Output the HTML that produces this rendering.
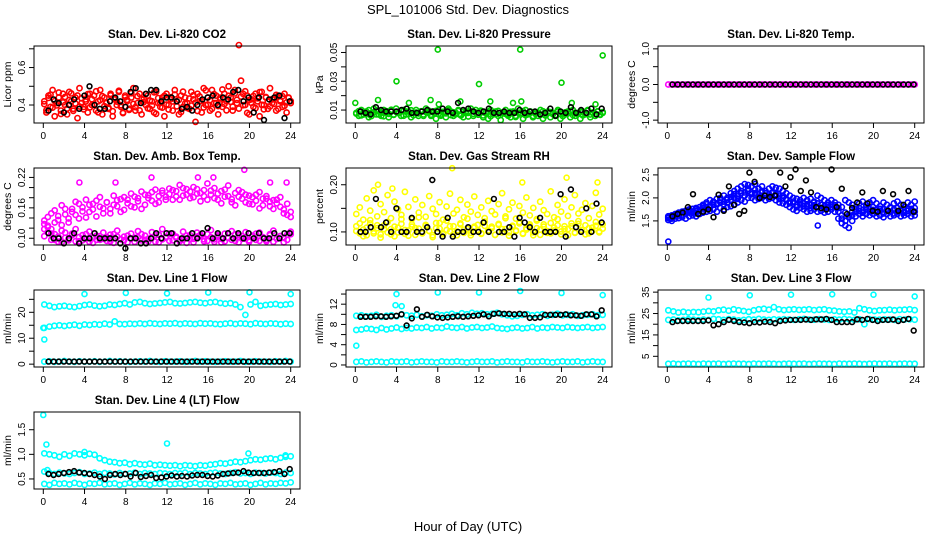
<!DOCTYPE html>
<html><head><meta charset="utf-8"><style>
html,body{margin:0;padding:0;background:#fff;}
svg{display:block;font-family:"Liberation Sans",Arial,sans-serif;}
</style></head><body>
<svg id="fig" width="936" height="540" viewBox="0 0 936 540" xmlns="http://www.w3.org/2000/svg">
<text x="468" y="14" font-size="13" text-anchor="middle">SPL_101006  Std. Dev. Diagnostics</text>
<text x="468" y="531" font-size="13" text-anchor="middle">Hour of Day (UTC)</text>
</svg>
<script>
// ---------- data ----------
const xTicks = [0,4,8,12,16,20,24];

const co2Red = [.42,.36,.45,.39,.48,.34,.41,.44,.37,.46,.40,.35,.47,.42,.38,.44,.33,.49,.41,.39,
.43,.36,.46,.40,.45,.37,.42,.48,.35,.44,.41,.38,.46,.34,.43,.40,.47,.39,.36,.45,
.42,.38,.44,.49,.37,.41,.46,.35,.43,.40,.45,.38,.42,.36,.47,.41,.39,.44,.34,.46,
.40,.43,.37,.48,.42,.35,.45,.39,.44,.41,.38,.47,.43,.31,.46,.42,.36,.49,.40,.44,
.37,.48,.41,.45,.35,.43,.39,.46,.42,.50,.44,.37,.48,.41,.72,.53,.46,.40,.45,.35,
.43,.39,.46,.42,.34,.47,.40,.44,.38,.49,.41,.43,.37,.45,.42,.39,.46,.36,.44,.41];
const co2Red2 = [.405,.372,.438,.455,.386,.421,.398,.467,.352,.414,.443,.381,.427,.462,.369,.408,.451,.392,.436,.377,
.419,.458,.388,.431,.402,.473,.361,.426,.447,.394,.412,.385,.452,.367,.434,.418,.476,.399,.357,.441,
.428,.374,.463,.406,.389,.447,.371,.432,.415,.459,.382,.424,.397,.468,.353,.437,.411,.386,.449,.403,
.376,.441,.419,.456,.393,.428,.362,.471,.408,.384,.435,.397,.452,.413,.368,.446,.421,.387,.478,.402,
.426,.379,.458,.411,.394,.439,.483,.405,.372,.449,.417,.391,.462,.428,.381,.445,.399,.473,.358,.427,
.412,.448,.383,.436,.469,.401,.377,.443,.418,.392,.431,.406,.454,.379,.425,.447,.396,.414,.438,.421];
const co2Black = [.37,.43,.41,.36,.40,.43,.38,.45,.50,.40,.38,.38,.42,.44,.42,.39,.47,.49,.41,.46,
.48,.48,.42,.44,.44,.42,.38,.39,.37,.40,.43,.44,.45,.40,.44,.43,.47,.48,.42,.44,.36,.44,.32,.43,.44,.45,.33,.42];

const presGreen = [.008,.006,.010,.007,.009,.005,.008,.011,.007,.009,.006,.010,.008,.005,.009,.007,.011,.008,.006,.010,
.007,.009,.005,.008,.010,.006,.009,.007,.011,.008,.006,.009,.004,.010,.007,.008,.005,.011,.009,.006,
.008,.010,.007,.005,.009,.008,.011,.006,.010,.007,.009,.005,.008,.004,.010,.007,.009,.006,.003,.008,
.010,.007,.005,.009,.006,.011,.008,.004,.010,.007,.009,.005,.008,.006,.010,.004,.007,.009,.005,.008,
.006,.010,.004,.008,.007,.009,.005,.010,.006,.008,.004,.009,.007,.010,.005,.008,.006,.009,.007,.008];
const presGreen2 = [.0075,.0092,.0063,.0088,.0071,.0099,.0058,.0084,.0096,.0069,.0081,.0057,.0093,.0074,.0102,.0066,.0087,.0079,.0095,.0061,
.0089,.0072,.0098,.0064,.0083,.0076,.0091,.0059,.0086,.0097,.0068,.0082,.0094,.0073,.0061,.0088,.0077,.0099,.0065,.0084,
.0071,.0093,.0062,.0087,.0079,.0055,.0091,.0074,.0083,.0068,.0096,.0063,.0078,.0089,.0057,.0082,.0071,.0094,.0066,.0085,
.0073,.0061,.0088,.0076,.0052,.0081,.0069,.0092,.0064,.0078,.0087,.0059,.0074,.0083,.0068,.0091,.0062,.0079,.0086,.0071,
.0065,.0089,.0073,.0058,.0084,.0077,.0093,.0066,.0081,.0072,.0088,.0063,.0079,.0095,.0069,.0083,.0074,.0091,.0067,.0085];
const presOutHours = [0,2.2,4,5.2,7.3,8,8.1,10.2,12,13.1,15.3,16,16.1,20,21,23.3,24];
const presOutVals = [.015,.017,.030,.015,.017,.052,.014,.016,.028,.016,.015,.052,.016,.029,.015,.014,.048];
const presBlack = [.009,.008,.007,.012,.010,.009,.009,.009,.010,.011,.008,.008,.009,.010,.009,.009,.011,.009,.008,.015,
.010,.011,.009,.008,.009,.011,.008,.008,.009,.008,.008,.010,.008,.009,.009,.007,.008,.011,.006,.009,.008,.012,.008,.010,.008,.011,.007,.011];

const tempMag = [0,0,0,0,0,0,0,0,0,0,0,0,0,0,0,0,0,0,0,0,0,0,0,0,0,0,0,0,0,0,0,0,0,0,0,0,0,0,0,0,0,0,0,0,0,0,0,0,0,0,0,0,0,0,0,0,0,0,0,0,0,0,0,0,0,0,0,0,0,0,0,0];
const tempBlack = [0,0,0,0,0,0,0,0,0,0,0,0,0,0,0,0,0,0,0,0,0,0,0,0,0,0,0,0,0,0,0,0,0,0,0,0,0,0,0,0,0,0,0,0,0,0,0,0];

const ambUpper = [.128,.142,.118,.155,.136,.165,.147,.131,.158,.172,.139,.161,.176,.152,.168,.143,.181,.159,.171,.149,.184,.163,.177,.156,
.169,.188,.161,.179,.192,.166,.185,.174,.196,.171,.189,.182,.198,.176,.193,.205,.184,.197,.179,.201,.188,.173,.195,.208,
.186,.199,.176,.193,.182,.204,.171,.189,.195,.178,.186,.168,.181,.174,.191,.165,.178,.172,.158,.176,.162,.149,.168,.152];
const ambUpper2 = [.135,.122,.149,.131,.144,.126,.158,.139,.152,.146,.168,.153,.141,.166,.157,.174,.162,.149,.171,.158,.166,.175,.152,.181,
.176,.163,.182,.173,.158,.186,.179,.191,.168,.183,.194,.176,.187,.195,.182,.176,.199,.186,.192,.181,.197,.189,.183,.176,
.194,.179,.188,.169,.196,.183,.177,.165,.182,.191,.171,.184,.167,.186,.159,.178,.183,.163,.175,.169,.181,.157,.146,.142];
const ambLower = [.104,.112,.097,.108,.093,.115,.101,.096,.109,.118,.094,.106,.099,.113,.091,.105,.097,.111,.102,.094,.108,.115,.098,.103,
.092,.109,.101,.114,.096,.105,.099,.112,.093,.107,.118,.101,.095,.109,.103,.097,.113,.091,.106,.099,.111,.104,.094,.108,
.116,.098,.103,.092,.109,.101,.114,.095,.106,.099,.112,.093,.105,.097,.111,.102,.094,.108,.115,.099,.104,.092,.107,.113];
const ambLower2 = [.118,.125,.109,.097,.103,.092,.111,.099,.106,.094,.102,.096,.108,.093,.101,.097,.104,.099,.095,.107,.091,.103,.098,.096,
.105,.099,.093,.102,.108,.097,.094,.101,.106,.092,.098,.103,.109,.096,.101,.094,.097,.105,.099,.092,.103,.107,.098,.095,
.102,.093,.106,.099,.094,.101,.097,.108,.092,.104,.099,.096,.103,.109,.095,.101,.097,.106,.093,.099,.104,.101,.097,.108];
const ambOutHours = [3.5,7,10.5,15,16.5,19.5,22,23.6];
const ambOutVals = [.21,.21,.22,.22,.22,.235,.21,.21];
const ambBlack = [.11,.10,.10,.09,.10,.11,.09,.10,.10,.11,.10,.10,.10,.10,.09,.08,.10,.10,.09,.09,.10,.11,.10,.11,
.11,.09,.10,.10,.11,.10,.11,.12,.10,.11,.10,.11,.10,.11,.10,.11,.10,.11,.10,.10,.11,.10,.11,.11];

const rhLow = [.102,.118,.091,.109,.125,.097,.114,.088,.106,.121,.095,.111,.099,.127,.104,.092,.116,.108,.131,.097,.113,.102,.089,.119,
.107,.095,.124,.101,.112,.093,.118,.105,.128,.098,.109,.115,.096,.122,.103,.111,.094,.117,.106,.129,.099,.113,.102,.121,
.097,.108,.116,.093,.124,.105,.111,.098,.119,.103,.127,.095,.112,.106,.118,.099,.123,.104,.114,.097,.109,.121,.101,.116];
const rhLow2 = [.112,.097,.105,.093,.118,.101,.108,.095,.114,.099,.106,.091,.109,.117,.096,.103,.111,.094,.107,.099,.115,.102,.093,.108,
.119,.097,.104,.112,.095,.101,.116,.098,.106,.093,.111,.104,.097,.113,.101,.108,.094,.115,.099,.106,.092,.111,.103,.118,
.096,.105,.113,.099,.108,.094,.116,.102,.097,.109,.114,.101,.106,.093,.112,.098,.117,.104,.095,.108,.102,.113,.099,.107];
const rhHigh = [.138,.152,.126,.171,.145,.188,.133,.159,.142,.178,.129,.164,.148,.136,.185,.153,.127,.169,.141,.157,.132,.176,.149,.138,
.163,.126,.154,.181,.139,.147,.168,.131,.158,.143,.175,.136,.152,.129,.166,.144,.137,.159,.182,.133,.148,.162,.128,.155,
.141,.173,.135,.151,.127,.164,.146,.138,.186,.131,.157,.143,.169,.134,.152,.178,.139,.147,.161,.129,.155,.183,.137,.149];
const rhOutHours = [2.2,3.6,9.4,16.2,20.5,23.5];
const rhOutVals = [.200,.192,.235,.205,.215,.205];
const rhBlack = [.10,.10,.11,.17,.11,.12,.10,.15,.10,.10,.13,.10,.10,.11,.21,.10,.09,.13,.09,.10,.10,.11,.10,.10,
.12,.10,.17,.10,.10,.11,.09,.13,.12,.11,.10,.13,.10,.10,.10,.18,.09,.19,.11,.10,.15,.10,.16,.12];

const flowBlueA = [1.60,1.62,1.65,1.68,1.70,1.72,1.75,1.76,1.78,1.80,1.85,1.90,1.95,1.92,1.98,2.00,2.05,2.00,2.10,2.15,2.20,2.25,2.30,2.28,
2.25,2.30,2.20,2.25,2.15,2.20,2.25,2.22,2.20,2.15,2.10,2.05,2.00,1.98,1.95,2.00,1.95,1.98,1.92,2.05,2.00,1.95,1.90,1.95,
1.90,1.85,1.80,1.95,1.90,1.85,1.80,1.88,1.92,1.85,1.90,1.95,1.88,1.82,1.90,1.85,1.80,1.88,1.92,1.85,1.80,1.90,1.85,1.92];
const flowBlueB = [1.52,1.50,1.55,1.56,1.58,1.55,1.60,1.62,1.60,1.65,1.68,1.70,1.72,1.75,1.70,1.78,1.75,1.80,1.82,1.85,1.90,1.95,1.92,2.00,
2.00,1.95,1.98,2.00,1.95,1.98,2.00,1.95,1.90,1.88,1.85,1.80,1.75,1.72,1.78,1.75,1.70,1.72,1.75,1.70,1.72,1.68,1.70,1.75,
1.70,1.55,1.45,1.40,1.35,1.50,1.60,1.65,1.60,1.65,1.62,1.65,1.60,1.62,1.58,1.65,1.60,1.62,1.65,1.60,1.62,1.65,1.60,1.62];
const flowBlueC = [1.56,1.58,1.60,1.62,1.64,1.66,1.68,1.70,1.72,1.74,1.78,1.80,1.84,1.85,1.86,1.90,1.92,1.90,1.96,2.00,2.05,2.10,2.12,2.15,
2.12,2.10,2.08,2.12,2.05,2.08,2.10,2.08,2.05,2.00,1.98,1.92,1.88,1.85,1.86,1.88,1.82,1.85,1.84,1.88,1.85,1.82,1.80,1.85,
1.80,1.70,1.62,1.68,1.62,1.70,1.75,1.78,1.74,1.75,1.76,1.80,1.74,1.72,1.75,1.74,1.70,1.75,1.78,1.72,1.70,1.76,1.72,1.78];
const flowBlueD = [1.58,1.55,1.62,1.66,1.60,1.70,1.72,1.68,1.76,1.72,1.82,1.86,1.80,1.90,1.88,1.95,1.86,1.96,2.02,2.08,1.98,2.15,2.05,2.20,
2.08,2.18,2.02,2.15,2.10,2.02,2.12,2.05,1.98,2.05,1.95,1.88,1.92,1.80,1.90,1.82,1.86,1.78,1.90,1.80,1.85,1.76,1.84,1.80,
1.84,1.78,1.55,1.50,1.58,1.62,1.70,1.72,1.68,1.80,1.70,1.74,1.68,1.76,1.66,1.72,1.78,1.66,1.70,1.74,1.68,1.72,1.76,1.70];
const flowOutHours = [0.1,14.6];
const flowOutVals = [1.05,1.40];
const flowBlack = [1.60,1.65,1.68,1.80,2.08,1.65,1.70,1.75,1.58,2.07,1.72,2.25,1.85,1.65,1.72,2.55,2.35,2.00,2.05,2.02,2.05,2.55,2.25,2.45,
2.62,2.15,2.38,2.12,1.80,1.78,1.75,2.62,1.80,2.20,1.65,1.78,1.90,2.12,1.88,1.72,1.70,2.15,1.72,2.08,1.72,1.85,2.15,1.70];

const line1Top = [23,22.5,22,22.3,22.5,22.2,22,22.4,22.8,23,22.6,22.3,22.5,23,22.8,23.2,23.5,23,23.8,24,23.5,23.2,23.4,23.6,23.8,
24,23.5,23.4,23.6,23.8,24,23.7,23.5,23.8,24,23.6,23.3,23.5,23,22,19,23,24,22.5,22.8,23,23.2,22.8,23,23.2];
const line1Mid = [14,14.5,14.8,15,14.7,15,15.2,14.8,15.3,15.1,15.4,15.2,15.6,15.3,16.5,15.5,15.4,15.6,15.5,15.7,15.5,15.8,15.6,15.5,15.7,
15.6,15.8,15.5,15.7,15.6,15.5,15.8,15.6,15.7,15.5,15.4,15.6,15.8,15.5,15.7,15.6,15.4,15.8,15.6,15.5,15.7,15.6,15.4,15.6,15.5];
const line1Low = [1.0,1.1,0.9,1.0,1.2,1.0,0.9,1.1,1.0,1.0,1.1,0.9,1.0,1.2,1.0,1.1,1.0,0.9,1.0,1.1,1.0,1.2,1.0,0.9,1.1,
1.0,1.0,1.1,0.9,1.0,1.2,1.0,1.1,1.0,0.9,1.0,1.1,1.0,1.0,1.2,0.9,1.0,1.1,1.0,1.0,0.9,1.1,1.0,1.2,1.0];
const line1OutHours = [0.1,0,4,8,12,16,20,24];
const line1OutVals = [9.5,14,27,27.5,27.3,27.6,27.7,27];
const line1Black = [1,1,1,1,1,1,1,1,1,1,1,1,1,1,1,1,1,1,1,1,1,1,1,1,1,1,1,1,1,1,1,1,1,1,1,1,1,1,1,1,1,1,1,1,1,1,1,1];

const line2Top = [9.7,9.8,9.6,9.7,9.9,9.5,9.7,9.8,9.6,10.0,9.8,9.7,9.9,9.6,9.8,9.7,10.0,9.8,9.9,10.1,9.8,10.2,10.0,10.3,10.1,
10.2,10.0,10.1,10.3,10.0,9.8,9.6,9.7,9.9,10.0,9.8,9.9,10.0,9.7,9.9,10.1,9.8,9.9,10.0,9.7,9.8,9.9,10.0,9.8,9.9];
const line2Mid = [6.9,7.0,7.2,7.1,6.9,7.3,7.0,7.2,7.4,7.1,7.3,7.2,7.4,7.3,7.5,7.2,7.4,7.3,7.6,7.4,7.3,7.5,7.2,7.4,7.5,
7.3,7.4,7.6,7.3,7.2,7.1,7.3,7.4,7.2,7.3,7.5,7.2,7.4,7.3,7.5,7.4,7.3,7.5,7.4,7.3,7.4,7.5,7.3,7.4,7.5];
const line2Low = [0.6,0.7,0.5,0.6,0.7,0.6,0.5,0.7,0.6,0.6,0.7,0.5,0.6,0.7,0.6,0.6,0.5,0.7,0.6,0.6,0.7,0.6,0.5,0.6,0.7,
0.6,0.6,0.7,0.5,0.6,0.7,0.6,0.6,0.5,0.7,0.6,0.6,0.7,0.6,0.5,0.6,0.7,0.6,0.6,0.7,0.5,0.6,0.7,0.6,0.6];
const line2OutHours = [0.1,4,3.9,4.5,8,12,16,20,24];
const line2OutVals = [3.8,14.0,11.8,11.6,14.3,14.3,14.6,14.2,13.8];
const line2Black = [9.5,9.5,9.5,9.6,9.6,9.5,9.6,9.7,10.0,7.8,9.2,11.0,9.5,9.9,9.6,9.4,9.3,9.4,9.5,9.6,9.5,9.6,9.7,9.8,
10.0,9.6,10.1,10.2,10.1,10.1,10.0,10.1,10.0,9.3,9.3,9.4,9.9,9.9,9.9,9.9,10.0,9.8,9.8,9.7,10.0,10.0,9.6,10.8];

const line3Top = [26.5,26,25.5,25.8,25.5,25.7,25.6,25.9,26.2,26,26.5,26.8,26.3,27,26.5,26.2,25.8,26.5,27,27.2,26.8,28,27,26.6,26.8,
27,26.7,26.8,27,26.6,26.8,27,26.5,26.3,26,25.8,26,25.5,27.5,27,26.5,26.2,26.5,26.6,26.8,26.5,26.7,26.8,27,26.6];
const line3Mid = [22,22.2,21.8,22,22.3,22.1,21.9,22.2,22,22.5,22.3,22,22.4,22.2,21.8,22,22.3,22.1,22.5,22.2,22,22.3,22.1,22.4,22.2,
22,22.3,22.5,22.2,22.1,22.4,22.2,22,22.3,22.1,22.5,22.2,22,22.3,20,22.4,22.2,22.1,22.3,22.2,22,22.4,22.2,22.3,22.1];
const line3Low = [1.5,1.6,1.4,1.5,1.6,1.5,1.4,1.6,1.5,1.5,1.6,1.4,1.5,1.6,1.5,1.5,1.4,1.6,1.5,1.5,1.6,1.5,1.4,1.5,1.6,
1.5,1.5,1.6,1.4,1.5,1.6,1.5,1.5,1.4,1.6,1.5,1.5,1.6,1.5,1.4,1.5,1.6,1.5,1.5,1.6,1.4,1.5,1.6,1.5,1.5];
const line3OutHours = [4,8,12,16,20,24];
const line3OutVals = [32.5,33.5,33.8,34,33.8,33];
const line3Black = [21,21.5,21.5,21.5,21.5,21.5,21.5,21.8,19.5,20,21,22,21.5,21,20.8,20.5,21,20.8,21.2,21,20.5,21.5,21.8,22,
22,22,22.2,22,22.3,22.2,22.5,22,21,21,21,21,22.3,22,22.5,22,21.5,22,22,22.2,21.5,22,22.5,17];

const line4Top = [1.02,1.0,0.98,0.95,1.0,0.97,1.02,1.0,0.98,1.01,0.99,0.92,0.88,0.85,0.84,0.82,0.83,0.80,0.82,0.80,0.79,0.81,0.78,0.79,0.78,
0.77,0.78,0.76,0.78,0.77,0.76,0.78,0.77,0.79,0.80,0.82,0.81,0.83,0.85,0.84,0.86,0.88,0.90,0.89,0.91,0.92,0.90,0.93,0.95,0.96];
const line4Mid = [0.65,0.62,0.60,0.63,0.61,0.60,0.62,0.64,0.60,0.61,0.63,0.60,0.62,0.61,0.59,0.62,0.60,0.61,0.63,0.60,0.62,0.61,0.60,0.62,0.61,
0.60,0.62,0.61,0.63,0.60,0.62,0.61,0.60,0.62,0.63,0.61,0.60,0.62,0.64,0.61,0.62,0.60,0.63,0.62,0.61,0.63,0.62,0.60,0.63,0.62];
const line4Low = [0.40,0.38,0.42,0.40,0.41,0.39,0.42,0.40,0.38,0.41,0.40,0.42,0.39,0.40,0.41,0.38,0.40,0.42,0.39,0.41,0.40,0.38,0.41,0.40,0.42,
0.39,0.40,0.41,0.38,0.40,0.42,0.39,0.41,0.40,0.38,0.41,0.40,0.42,0.39,0.40,0.41,0.38,0.40,0.42,0.39,0.41,0.40,0.42,0.41,0.43];
const line4OutHours = [0,0.3,0.4,4,12,19.9,23.5];
const line4OutVals = [1.80,1.20,0.68,1.05,1.22,1.02,0.98];
const line4Black = [0.60,0.58,0.60,0.62,0.64,0.66,0.63,0.62,0.60,0.58,0.55,0.50,0.58,0.60,0.58,0.60,0.55,0.62,0.54,0.56,0.58,0.52,0.53,0.55,
0.57,0.55,0.56,0.55,0.57,0.58,0.58,0.56,0.55,0.57,0.60,0.61,0.62,0.63,0.66,0.63,0.62,0.62,0.62,0.63,0.64,0.66,0.60,0.70];

// ---------- layout ----------
const RED="#ff0000",GRN="#00cd00",MAG="#ff00ff",YEL="#ffff00",BLU="#0000ff",CYN="#00ffff",BLK="#000000";
const panels = [
 {name:"co2",title:"Stan. Dev. Li-820 CO2",ylab:"Licor ppm",col:0,row:0,lo:0.304,hi:0.715,ticks:[0.4,0.5,0.6,0.7],labels:[0.4,0.6],fmt:1,
  series:[[co2Red,RED],[co2Red2,RED]],out:[],black:co2Black},
 {name:"pressure",title:"Stan. Dev. Li-820 Pressure",ylab:"kPa",col:1,row:0,lo:0.001,hi:0.0545,ticks:[0.01,0.02,0.03,0.04,0.05],labels:[0.01,0.03,0.05],fmt:2,
  series:[[presGreen,GRN],[presGreen2,GRN]],out:[[presOutHours,presOutVals,GRN]],black:presBlack},
 {name:"li820-temp",title:"Stan. Dev. Li-820 Temp.",ylab:"degrees C",col:2,row:0,lo:-1.08,hi:1.08,ticks:[-1,-0.5,0,0.5,1],labels:[-1,0,1],fmt:1,
  series:[[tempMag,MAG]],out:[],black:tempBlack},
 {name:"amb-box-temp",title:"Stan. Dev. Amb. Box Temp.",ylab:"degrees C",col:0,row:1,lo:0.0867,hi:0.2386,ticks:[0.10,0.12,0.14,0.16,0.18,0.20,0.22],labels:[0.10,0.16,0.22],fmt:2,
  series:[[ambUpper,MAG],[ambUpper2,MAG],[ambLower,MAG],[ambLower2,MAG]],out:[[ambOutHours,ambOutVals,MAG]],black:ambBlack},
 {name:"gas-stream-rh",title:"Stan. Dev. Gas Stream RH",ylab:"percent",col:1,row:1,lo:0.0723,hi:0.2355,ticks:[0.10,0.15,0.20],labels:[0.10,0.20],fmt:2,
  series:[[rhLow,YEL],[rhLow2,YEL],[rhHigh,YEL]],out:[[rhOutHours,rhOutVals,YEL]],black:rhBlack},
 {name:"sample-flow",title:"Stan. Dev. Sample Flow",ylab:"ml/min",col:2,row:1,lo:0.976,hi:2.65,ticks:[1.5,2.0,2.5],labels:[1.5,2.0,2.5],fmt:1,
  series:[[flowBlueA,BLU],[flowBlueB,BLU],[flowBlueC,BLU],[flowBlueD,BLU]],out:[[flowOutHours,flowOutVals,BLU]],black:flowBlack},
 {name:"line1-flow",title:"Stan. Dev. Line 1 Flow",ylab:"ml/min",col:0,row:2,lo:-1.1,hi:28.6,ticks:[0,5,10,15,20,25],labels:[0,10,20],fmt:0,
  series:[[line1Top,CYN],[line1Mid,CYN],[line1Low,CYN]],out:[[line1OutHours,line1OutVals,CYN]],black:line1Black},
 {name:"line2-flow",title:"Stan. Dev. Line 2 Flow",ylab:"ml/min",col:1,row:2,lo:-0.4,hi:14.8,ticks:[0,2,4,6,8,10,12,14],labels:[0,4,8,12],fmt:0,
  series:[[line2Top,CYN],[line2Mid,CYN],[line2Low,CYN]],out:[[line2OutHours,line2OutVals,CYN]],black:line2Black},
 {name:"line3-flow",title:"Stan. Dev. Line 3 Flow",ylab:"ml/min",col:2,row:2,lo:0,hi:36,ticks:[5,10,15,20,25,30,35],labels:[5,15,25,35],fmt:0,
  series:[[line3Top,CYN],[line3Mid,CYN],[line3Low,CYN]],out:[[line3OutHours,line3OutVals,CYN]],black:line3Black},
 {name:"line4-flow",title:"Stan. Dev. Line 4 (LT) Flow",ylab:"ml/min",col:0,row:3,lo:0.296,hi:1.86,ticks:[0.5,1.0,1.5],labels:[0.5,1.0,1.5],fmt:1,
  series:[[line4Top,CYN],[line4Mid,CYN],[line4Low,CYN]],out:[[line4OutHours,line4OutVals,CYN]],black:line4Black}
];
const colLeft=[34,346,658], rowTop=[46,168,290,412], PW=266, PH=77;
const NS="http://www.w3.org/2000/svg";
const svg=document.getElementById('fig');
function mk(tag,attrs,parent){const e=document.createElementNS(NS,tag);for(const k in attrs)e.setAttribute(k,attrs[k]);parent.appendChild(e);return e;}

panels.forEach(p=>{
  const L=colLeft[p.col], T=rowTop[p.row], B=T+PH;
  const xs=h=>L+9.3+h*(PW-18.6)/24;
  const ys=v=>B-(v-p.lo)/(p.hi-p.lo)*PH;
  const g=mk('g',{},svg);
  
  
  const t=mk('text',{x:L+PW/2,y:T-8,'font-size':'11.5','font-weight':'bold','text-anchor':'middle'},g);
  t.textContent=p.title;
  
  
  const yl=mk('text',{transform:`translate(${L-23},${T+PH/2}) rotate(-90)`,'font-size':'10.5','text-anchor':'middle'},g);
  yl.textContent=p.ylab;
  
  
  const pts=mk('g',{fill:'none','stroke-width':'1.6'},g);
  
  
  function dot(h,v,c,r){
    const cc=mk('circle',{cx:xs(h).toFixed(1),cy:ys(v).toFixed(1),r:r,stroke:c},pts);
    
    
  }
  p.series.forEach(([arr,c])=>{arr.forEach((v,i)=>dot(0.1+i*23.9/(arr.length-1),v,c,'2.6'));});
  p.out.forEach(([hs,vs,c])=>{hs.forEach((h,i)=>dot(h,vs[i],c,'2.5'));});
  p.black.forEach((v,i)=>dot(0.5+i*23.4/(p.black.length-1),v,BLK,'2.4'));
  const box=mk('rect',{x:L,y:T,width:PW,height:PH,fill:'none',stroke:'#000','stroke-width':'1'},g);
  
  
  const xa=mk('g',{stroke:'#000','stroke-width':'1'},g);
  
  
  xTicks.forEach(h=>{
    mk('line',{x1:xs(h),x2:xs(h),y1:B,y2:B+5},xa);
    const tl=mk('text',{x:xs(h),y:B+16,'font-size':'10','text-anchor':'middle',stroke:'none'},xa);
    tl.textContent=String(h);
    
    
  });
  const ya=mk('g',{stroke:'#000','stroke-width':'1'},g);
  
  
  p.ticks.forEach(v=>{mk('line',{x1:L-5,x2:L,y1:ys(v),y2:ys(v)},ya);});
  p.labels.forEach(v=>{
    const tl=mk('text',{transform:`translate(${L-9},${ys(v)}) rotate(-90)`,'font-size':'10','text-anchor':'middle',stroke:'none'},ya);
    tl.textContent=v.toFixed(p.fmt);
    
    
  });
});
</script>
</body></html>
